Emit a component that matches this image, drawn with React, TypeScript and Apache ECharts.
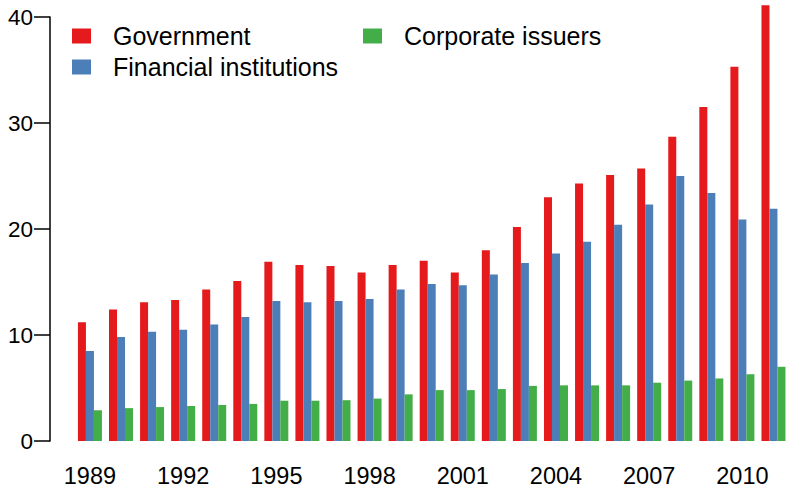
import React, { useEffect, useRef } from "react";
import * as echarts from "echarts";

const years = ["1989","1990","1991","1992","1993","1994","1995","1996","1997","1998","1999","2000","2001","2002","2003","2004","2005","2006","2007","2008","2009","2010","2011"];
const government = [11.2, 12.4, 13.1, 13.3, 14.3, 15.1, 16.9, 16.6, 16.5, 15.9, 16.6, 17.0, 15.9, 18.0, 20.2, 23.0, 24.3, 25.1, 25.7, 28.7, 31.5, 35.3, 41.1];
const financial = [8.5, 9.8, 10.3, 10.5, 11.0, 11.7, 13.2, 13.1, 13.2, 13.4, 14.3, 14.8, 14.7, 15.7, 16.8, 17.7, 18.8, 20.4, 22.3, 25.0, 23.4, 20.9, 21.9];
const corporate = [2.9, 3.1, 3.2, 3.3, 3.4, 3.5, 3.8, 3.8, 3.85, 4.0, 4.4, 4.8, 4.8, 4.9, 5.2, 5.25, 5.25, 5.25, 5.5, 5.7, 5.9, 6.3, 7.0];
const seriesNames = ["Government", "Financial institutions", "Corporate issuers"];
const colors = ["#E41A1C", "#4C7EB8", "#43AE48"];

const FONT = "'Liberation Sans', Arial, sans-serif";

export default function App() {
  const ref = useRef<HTMLDivElement>(null);
  useEffect(() => {
    if (!ref.current) return;
    const chart = echarts.init(ref.current, null, { renderer: "svg" });
    const legendText = {
      fontFamily: FONT,
      fontSize: 25,
      color: "#000",
      lineHeight: 24,
      padding: [0, 0, 0, 17],
    };
    const values = [government, financial, corporate];
    chart.setOption({
      animation: false,
      backgroundColor: "#fff",
      textStyle: { fontFamily: FONT },
      grid: { left: 74.4, top: 17, width: 719.2, bottom: 45, containLabel: false },
      legend: [
        {
          left: 72,
          top: 23.5,
          orient: "vertical",
          itemWidth: 19,
          itemHeight: 15,
          itemGap: 6,
          icon: "rect",
          selectedMode: false,
          padding: 0,
          data: [seriesNames[0], seriesNames[1]],
          textStyle: legendText,
        },
        {
          left: 363,
          top: 23.5,
          orient: "vertical",
          itemWidth: 19,
          itemHeight: 15,
          itemGap: 6,
          icon: "rect",
          selectedMode: false,
          padding: 0,
          data: [seriesNames[2]],
          textStyle: legendText,
        },
      ],
      xAxis: {
        type: "category",
        data: years,
        axisLine: { show: false },
        axisTick: { show: false },
        axisLabel: {
          interval: 2,
          fontSize: 23.5,
          fontFamily: FONT,
          color: "#000",
          margin: 23,
        },
      },
      yAxis: {
        type: "value",
        min: 0,
        max: 40,
        interval: 10,
        offset: 24.4,
        axisLine: { show: true, lineStyle: { color: "#000", width: 1.5 } },
        axisTick: { show: true, length: 16, lineStyle: { color: "#000", width: 1.5 } },
        axisLabel: {
          fontSize: 22.5,
          fontFamily: FONT,
          color: "#000",
          margin: 17,
        },
        splitLine: { show: false },
      },
      series: seriesNames.map((name, i) => ({
        name,
        type: "bar",
        data: values[i],
        barWidth: 8,
        barGap: "0%",
        clip: false,
        itemStyle: { color: colors[i] },
      })),
    });
    return () => chart.dispose();
  }, []);
  return <div ref={ref} style={{ width: 789, height: 488, position: "absolute", left: 0, top: 0 }} />;
}
